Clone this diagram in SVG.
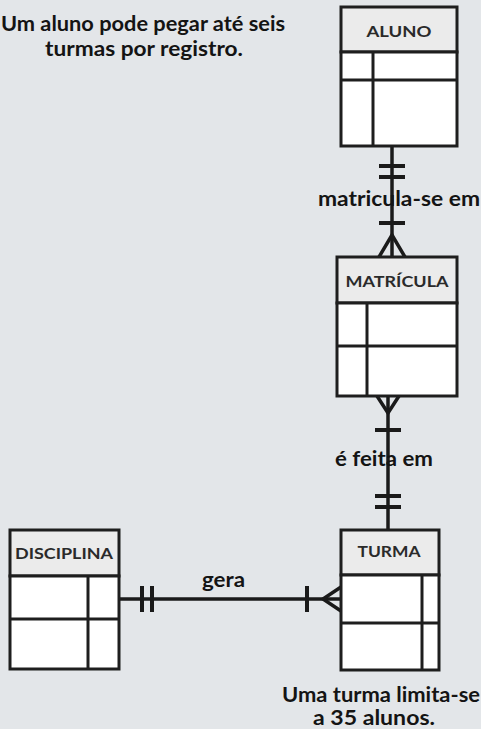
<svg xmlns="http://www.w3.org/2000/svg" width="481" height="729" viewBox="0 0 481 729">
<style>
.bg{fill:#e3e6e9}
.hdr{fill:#ebebeb;stroke:#1e1e1e;stroke-width:3}
.body{fill:#ffffff;stroke:#1e1e1e;stroke-width:3}
.ln{stroke:#1e1e1e;stroke-width:3;fill:none}
.cn{stroke:#1a1a1a;stroke-width:3.5;fill:none}
.bar{stroke:#1a1a1a;stroke-width:4;fill:none}
.ent{font-family:Lato,"Open Sans","Liberation Sans",sans-serif;font-size:16px;font-weight:bold;fill:#2a2a2a;text-anchor:middle}
.lbl{font-family:Lato,"Open Sans","Liberation Sans",sans-serif;font-size:20px;font-weight:bold;fill:#141414}
.top{font-size:21px}
</style>
<rect class="bg" x="0" y="0" width="481" height="729"/>
<g id="connectors">
  <line class="cn" x1="392" y1="146" x2="392" y2="257"/>
  <line class="bar" x1="379" y1="166" x2="405" y2="166"/>
  <line class="bar" x1="379" y1="177" x2="405" y2="177"/>
  <line class="bar" x1="379" y1="223" x2="405" y2="223"/>
  <path class="cn" d="M379 257 L392 235 L405 257"/>
  <line class="cn" x1="388" y1="396" x2="388" y2="530"/>
  <path class="cn" d="M377 396 L388 413 L399 396"/>
  <line class="bar" x1="375" y1="430" x2="401" y2="430"/>
  <line class="bar" x1="375" y1="496" x2="401" y2="496"/>
  <line class="bar" x1="375" y1="507" x2="401" y2="507"/>
  <line class="cn" x1="119" y1="599" x2="341" y2="599"/>
  <line class="bar" x1="142" y1="586" x2="142" y2="612"/>
  <line class="bar" x1="152" y1="586" x2="152" y2="612"/>
  <line class="bar" x1="307" y1="586" x2="307" y2="612"/>
  <path class="cn" d="M341 587 L323 599 L341 611"/>
</g>
<g id="aluno">
  <rect class="hdr" x="341" y="7" width="116" height="45"/>
  <rect class="body" x="341" y="52" width="116" height="94"/>
  <line class="ln" x1="341" y1="80" x2="457" y2="80"/>
  <line class="ln" x1="373" y1="52" x2="373" y2="146"/>
  <text class="ent" x="399" y="37" textLength="65" lengthAdjust="spacingAndGlyphs">ALUNO</text>
</g>
<g id="matricula">
  <rect class="hdr" x="337" y="257" width="120" height="46"/>
  <rect class="body" x="337" y="303" width="120" height="93"/>
  <line class="ln" x1="337" y1="346" x2="457" y2="346"/>
  <line class="ln" x1="367" y1="303" x2="367" y2="396"/>
  <text class="ent" x="397" y="287" textLength="103" lengthAdjust="spacingAndGlyphs">MATRÍCULA</text>
</g>
<g id="turma">
  <rect class="hdr" x="341" y="530" width="98" height="45"/>
  <rect class="body" x="341" y="575" width="98" height="95"/>
  <line class="ln" x1="341" y1="623" x2="439" y2="623"/>
  <line class="ln" x1="422" y1="575" x2="422" y2="670"/>
  <text class="ent" x="389" y="557" textLength="63" lengthAdjust="spacingAndGlyphs">TURMA</text>
</g>
<g id="disciplina">
  <rect class="hdr" x="10" y="530" width="109" height="46"/>
  <rect class="body" x="10" y="576" width="109" height="93"/>
  <line class="ln" x1="10" y1="619" x2="119" y2="619"/>
  <line class="ln" x1="88" y1="576" x2="88" y2="669"/>
  <text class="ent" x="64" y="559" textLength="98" lengthAdjust="spacingAndGlyphs">DISCIPLINA</text>
</g>
<g id="labels">
  <text class="lbl top" x="1" y="31" textLength="284" lengthAdjust="spacingAndGlyphs">Um aluno pode pegar até seis</text>
  <text class="lbl top" x="45" y="56" textLength="198" lengthAdjust="spacingAndGlyphs">turmas por registro.</text>
  <text class="lbl" x="318" y="206" textLength="162" lengthAdjust="spacingAndGlyphs">matricula-se em</text>
  <text class="lbl" x="335" y="466" textLength="98" lengthAdjust="spacingAndGlyphs">é feita em</text>
  <text class="lbl" x="202" y="587" textLength="43" lengthAdjust="spacingAndGlyphs">gera</text>
  <text class="lbl" x="282" y="702" textLength="198" lengthAdjust="spacingAndGlyphs">Uma turma limita-se</text>
  <text class="lbl" x="313" y="725" textLength="122" lengthAdjust="spacingAndGlyphs">a 35 alunos.</text>
</g>
</svg>
